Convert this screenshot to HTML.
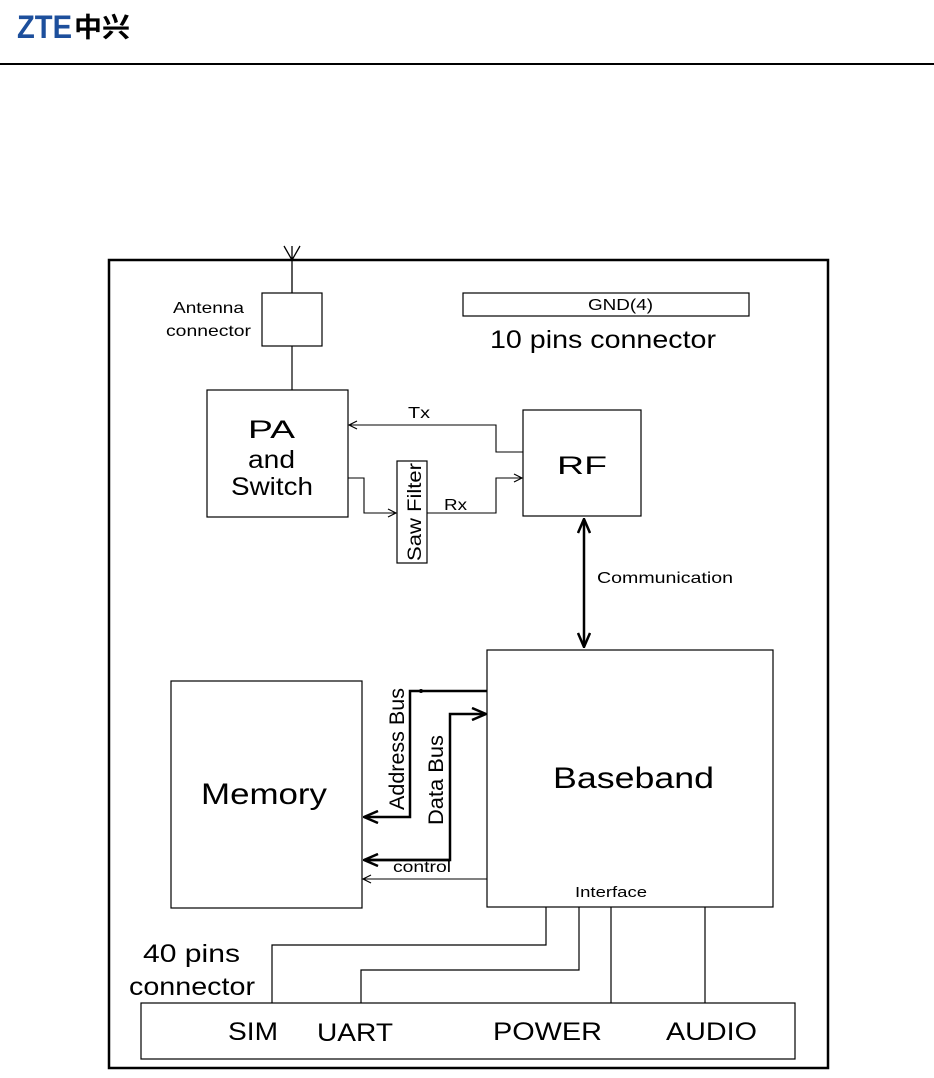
<!DOCTYPE html>
<html><head><meta charset="utf-8"><style>
html,body{margin:0;padding:0;background:#fff;}
svg{display:block;}
text{font-family:"Liberation Sans","Noto Sans CJK SC",sans-serif;fill:#000;}
</style></head><body>
<svg width="934" height="1078" viewBox="0 0 934 1078" xmlns="http://www.w3.org/2000/svg">
<defs>
<marker id="ao" markerWidth="10" markerHeight="10" refX="9" refY="5" orient="auto" markerUnits="userSpaceOnUse"><path d="M1,1 L9,5 L1,9" fill="none" stroke="#000" stroke-width="1.2"/></marker>
<marker id="ab" markerWidth="16" markerHeight="14" refX="15" refY="7" orient="auto" markerUnits="userSpaceOnUse"><path d="M1,1 L15,7 L1,13" fill="none" stroke="#000" stroke-width="2.5"/></marker>
<marker id="ab2" markerWidth="16" markerHeight="14" refX="15" refY="7" orient="auto-start-reverse" markerUnits="userSpaceOnUse"><path d="M1,1 L15,7 L1,13" fill="none" stroke="#000" stroke-width="2.5"/></marker>
</defs>
<text x="17" y="38" font-size="32" font-weight="bold" style="fill:#1d4f9c" textLength="55" lengthAdjust="spacingAndGlyphs">ZTE</text>
<text x="74" y="37" font-size="27" font-weight="bold" textLength="56" lengthAdjust="spacingAndGlyphs">中兴</text>
<rect x="0" y="63" width="934" height="2" fill="#000"/>
<g fill="none" stroke="#000">
<rect x="109" y="260" width="719" height="808" stroke-width="2.5"/>
<path d="M292,260 V246 M292,260 L284,246 M292,260 L300,246" stroke-width="1.3"/>
<line x1="292" y1="260" x2="292" y2="293" stroke-width="1.3"/>
<rect x="262" y="293" width="60" height="53" stroke-width="1.2"/>
<line x1="292" y1="346" x2="292" y2="390" stroke-width="1.2"/>
<rect x="207" y="390" width="141" height="127" stroke-width="1.2"/>
<rect x="463" y="293" width="286" height="23" stroke-width="1.2"/>
<rect x="523" y="410" width="118" height="106" stroke-width="1.2"/>
<path d="M523,452 H496 V425 H349" stroke-width="1.1" marker-end="url(#ao)"/>
<path d="M348,478 H364 V513 H396" stroke-width="1.1" marker-end="url(#ao)"/>
<rect x="397" y="461" width="30" height="102" stroke-width="1.2"/>
<path d="M427,513 H496 V478 H522" stroke-width="1.1" marker-end="url(#ao)"/>
<line x1="584" y1="519" x2="584" y2="647" stroke-width="2.5" marker-start="url(#ab2)" marker-end="url(#ab)"/>
<rect x="487" y="650" width="286" height="257" stroke-width="1.2"/>
<rect x="171" y="681" width="191" height="227" stroke-width="1.2"/>
<path d="M487,691 H410 V817 H364" stroke-width="2.5" marker-end="url(#ab)"/>
<path d="M364,860 H450 V714 H486" stroke-width="2.5" marker-end="url(#ab)"/>
<path d="M450,860 H364" stroke-width="2.5" marker-end="url(#ab)"/>
<path d="M487,879 H363" stroke-width="1.1" marker-end="url(#ao)"/>
<path d="M546,907 V945 H272 V1003" stroke-width="1.2"/>
<path d="M579,907 V970 H361 V1003" stroke-width="1.2"/>
<path d="M611,907 V1003" stroke-width="1.2"/>
<path d="M705,907 V1003" stroke-width="1.2"/>
<rect x="141" y="1003" width="654" height="56" stroke-width="1.2"/>
</g>
<circle cx="421" cy="691" r="2" fill="#000"/>
<text x="173" y="313" font-size="16" textLength="71" lengthAdjust="spacingAndGlyphs">Antenna</text>
<text x="166" y="336" font-size="16" textLength="85" lengthAdjust="spacingAndGlyphs">connector</text>
<text x="588" y="310" font-size="16" textLength="65" lengthAdjust="spacingAndGlyphs">GND(4)</text>
<text x="490" y="348" font-size="25" textLength="226" lengthAdjust="spacingAndGlyphs">10 pins connector</text>
<text x="248" y="438" font-size="25" textLength="47" lengthAdjust="spacingAndGlyphs">PA</text>
<text x="248" y="468" font-size="25" textLength="47" lengthAdjust="spacingAndGlyphs">and</text>
<text x="231" y="495" font-size="25" textLength="82" lengthAdjust="spacingAndGlyphs">Switch</text>
<text x="408" y="418" font-size="16" textLength="22" lengthAdjust="spacingAndGlyphs">Tx</text>
<text x="444" y="510" font-size="16" textLength="23" lengthAdjust="spacingAndGlyphs">Rx</text>
<text transform="translate(421,561) rotate(-90)" font-size="19" textLength="98" lengthAdjust="spacingAndGlyphs">Saw Filter</text>
<text x="557" y="474" font-size="25" textLength="50" lengthAdjust="spacingAndGlyphs">RF</text>
<text x="597" y="583" font-size="16" textLength="136" lengthAdjust="spacingAndGlyphs">Communication</text>
<text x="553" y="788" font-size="30" textLength="161" lengthAdjust="spacingAndGlyphs">Baseband</text>
<text x="201" y="804" font-size="30" textLength="126" lengthAdjust="spacingAndGlyphs">Memory</text>
<text transform="translate(404,810) rotate(-90)" font-size="21" textLength="122" lengthAdjust="spacingAndGlyphs">Address Bus</text>
<text transform="translate(443,825) rotate(-90)" font-size="21" textLength="90" lengthAdjust="spacingAndGlyphs">Data Bus</text>
<text x="393" y="872" font-size="16" textLength="58" lengthAdjust="spacingAndGlyphs">control</text>
<text x="575" y="897" font-size="15" textLength="72" lengthAdjust="spacingAndGlyphs">Interface</text>
<text x="143" y="962" font-size="25" textLength="97" lengthAdjust="spacingAndGlyphs">40 pins</text>
<text x="129" y="995" font-size="25" textLength="126" lengthAdjust="spacingAndGlyphs">connector</text>
<text x="228" y="1040" font-size="25" textLength="50" lengthAdjust="spacingAndGlyphs">SIM</text>
<text x="317" y="1041" font-size="25" textLength="76" lengthAdjust="spacingAndGlyphs">UART</text>
<text x="493" y="1040" font-size="25" textLength="109" lengthAdjust="spacingAndGlyphs">POWER</text>
<text x="666" y="1040" font-size="25" textLength="91" lengthAdjust="spacingAndGlyphs">AUDIO</text>
</svg>
</body></html>
